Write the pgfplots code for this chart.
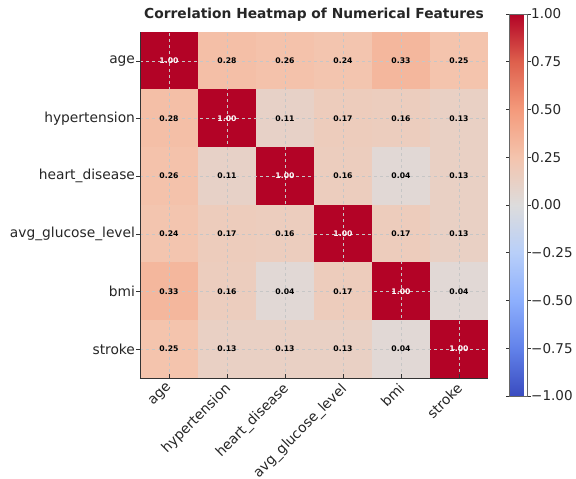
\documentclass[border=0pt]{standalone}
\usepackage{pgfplots}
\pgfplotsset{compat=1.18}
\usepackage{fontspec}
\setmainfont{DejaVu Sans}
\definecolor{txt}{RGB}{38,38,38}
\pgfplotsset{
  colormap={coolwarm}{
    rgb255=(58,76,192) rgb255=(98,130,234) rgb255=(141,175,253) rgb255=(184,207,249)
    rgb255=(221,220,220) rgb255=(244,196,173) rgb255=(244,154,123) rgb255=(222,96,77)
    rgb255=(179,3,38)}
}
\begin{document}
\begin{tikzpicture}
\begin{axis}[
  name=main,
  width=348pt, height=346pt, scale only axis,
  xmin=-0.5, xmax=5.5, ymin=-0.5, ymax=5.5,
  colormap name=coolwarm,
  point meta min=-1, point meta max=1,
  xtick={0,1,2,3,4,5}, ytick={0,1,2,3,4,5},
  xticklabels={age,hypertension,heart\_disease,avg\_glucose\_level,bmi,stroke},
  yticklabels={stroke,bmi,avg\_glucose\_level,heart\_disease,hypertension,age},
  xticklabel style={rotate=45, anchor=north east, inner sep=2pt, font=\fontsize{13.8}{16}\selectfont, text=txt, xshift=-3pt, yshift=1.5pt},
  yticklabel style={font=\fontsize{13.8}{16}\selectfont, text=txt, xshift=-1.5pt},
  tick align=inside,
  major tick length=3.5pt,
  x tick style={black!80, line width=0.6pt},
  y tick style={black!80, line width=0.6pt, xshift=-3.5pt},
  axis x line*=bottom, axis y line*=left,
  axis line style={black!80, line width=0.7pt},
  grid=major, grid style={dashed, gray!45, line width=0.4pt},
  axis on top,
  title={\bfseries Correlation Heatmap of Numerical Features},
  title style={font=\fontsize{13.8}{16}\selectfont, text=txt, at={(0.5,1)}, anchor=base, yshift=8pt},
  colorbar,
  colorbar style={
    at={(parent axis.north east)}, anchor=north west,
    xshift=13pt, yshift=18pt,
    width=18pt, height=382pt,
    ytick={-1,-0.75,-0.5,-0.25,0,0.25,0.5,0.75,1},
    yticklabels={−1.00,−0.75,−0.50,−0.25,0.00,0.25,0.50,0.75,1.00},
    yticklabel style={font=\fontsize{13.5}{16}\selectfont, text=txt, inner sep=1pt, xshift=-1pt},
    ytick style={black!80, line width=0.6pt},
    tick align=outside,
    major tick length=3.5pt,
    axis line style={black!60, line width=0.6pt},
  },
]
\addplot[matrix plot*, mesh/cols=6, point meta=explicit] table[meta=c]{
x y c
0 5 1.00
1 5 0.28
2 5 0.26
3 5 0.24
4 5 0.33
5 5 0.25
0 4 0.28
1 4 1.00
2 4 0.11
3 4 0.17
4 4 0.16
5 4 0.13
0 3 0.26
1 3 0.11
2 3 1.00
3 3 0.16
4 3 0.04
5 3 0.13
0 2 0.24
1 2 0.17
2 2 0.16
3 2 1.00
4 2 0.17
5 2 0.13
0 1 0.33
1 1 0.16
2 1 0.04
3 1 0.17
4 1 1.00
5 1 0.04
0 0 0.25
1 0 0.13
2 0 0.13
3 0 0.13
4 0 0.04
5 0 1.00
};
\addplot[only marks, mark=none, point meta=explicit,
  nodes near coords={\pgfmathprintnumber[fixed,fixed zerofill,precision=2,assume math mode=true]{\pgfplotspointmeta}},
  nodes near coords align=center,
  every node near coord/.style={font=\fontsize{7.7}{9}\selectfont\bfseries, text=black, anchor=center}]
 table[meta=c]{
x y c
1 5 0.28
2 5 0.26
3 5 0.24
4 5 0.33
5 5 0.25
0 4 0.28
2 4 0.11
3 4 0.17
4 4 0.16
5 4 0.13
0 3 0.26
1 3 0.11
3 3 0.16
4 3 0.04
5 3 0.13
0 2 0.24
1 2 0.17
2 2 0.16
4 2 0.17
5 2 0.13
0 1 0.33
1 1 0.16
2 1 0.04
3 1 0.17
5 1 0.04
0 0 0.25
1 0 0.13
2 0 0.13
3 0 0.13
4 0 0.04
};
\addplot[only marks, mark=none, point meta=explicit,
  nodes near coords={\pgfmathprintnumber[fixed,fixed zerofill,precision=2,assume math mode=true]{\pgfplotspointmeta}},
  nodes near coords align=center,
  every node near coord/.style={font=\fontsize{7.7}{9}\selectfont\bfseries, text=white, anchor=center}]
 table[meta=c]{
x y c
0 5 1.00
1 4 1.00
2 3 1.00
3 2 1.00
4 1 1.00
5 0 1.00
};
\end{axis}
\pgfresetboundingbox
\useasboundingbox (main.south west) ++(-140pt,-101pt) rectangle ++(576pt,479pt);
\end{tikzpicture}
\end{document}
